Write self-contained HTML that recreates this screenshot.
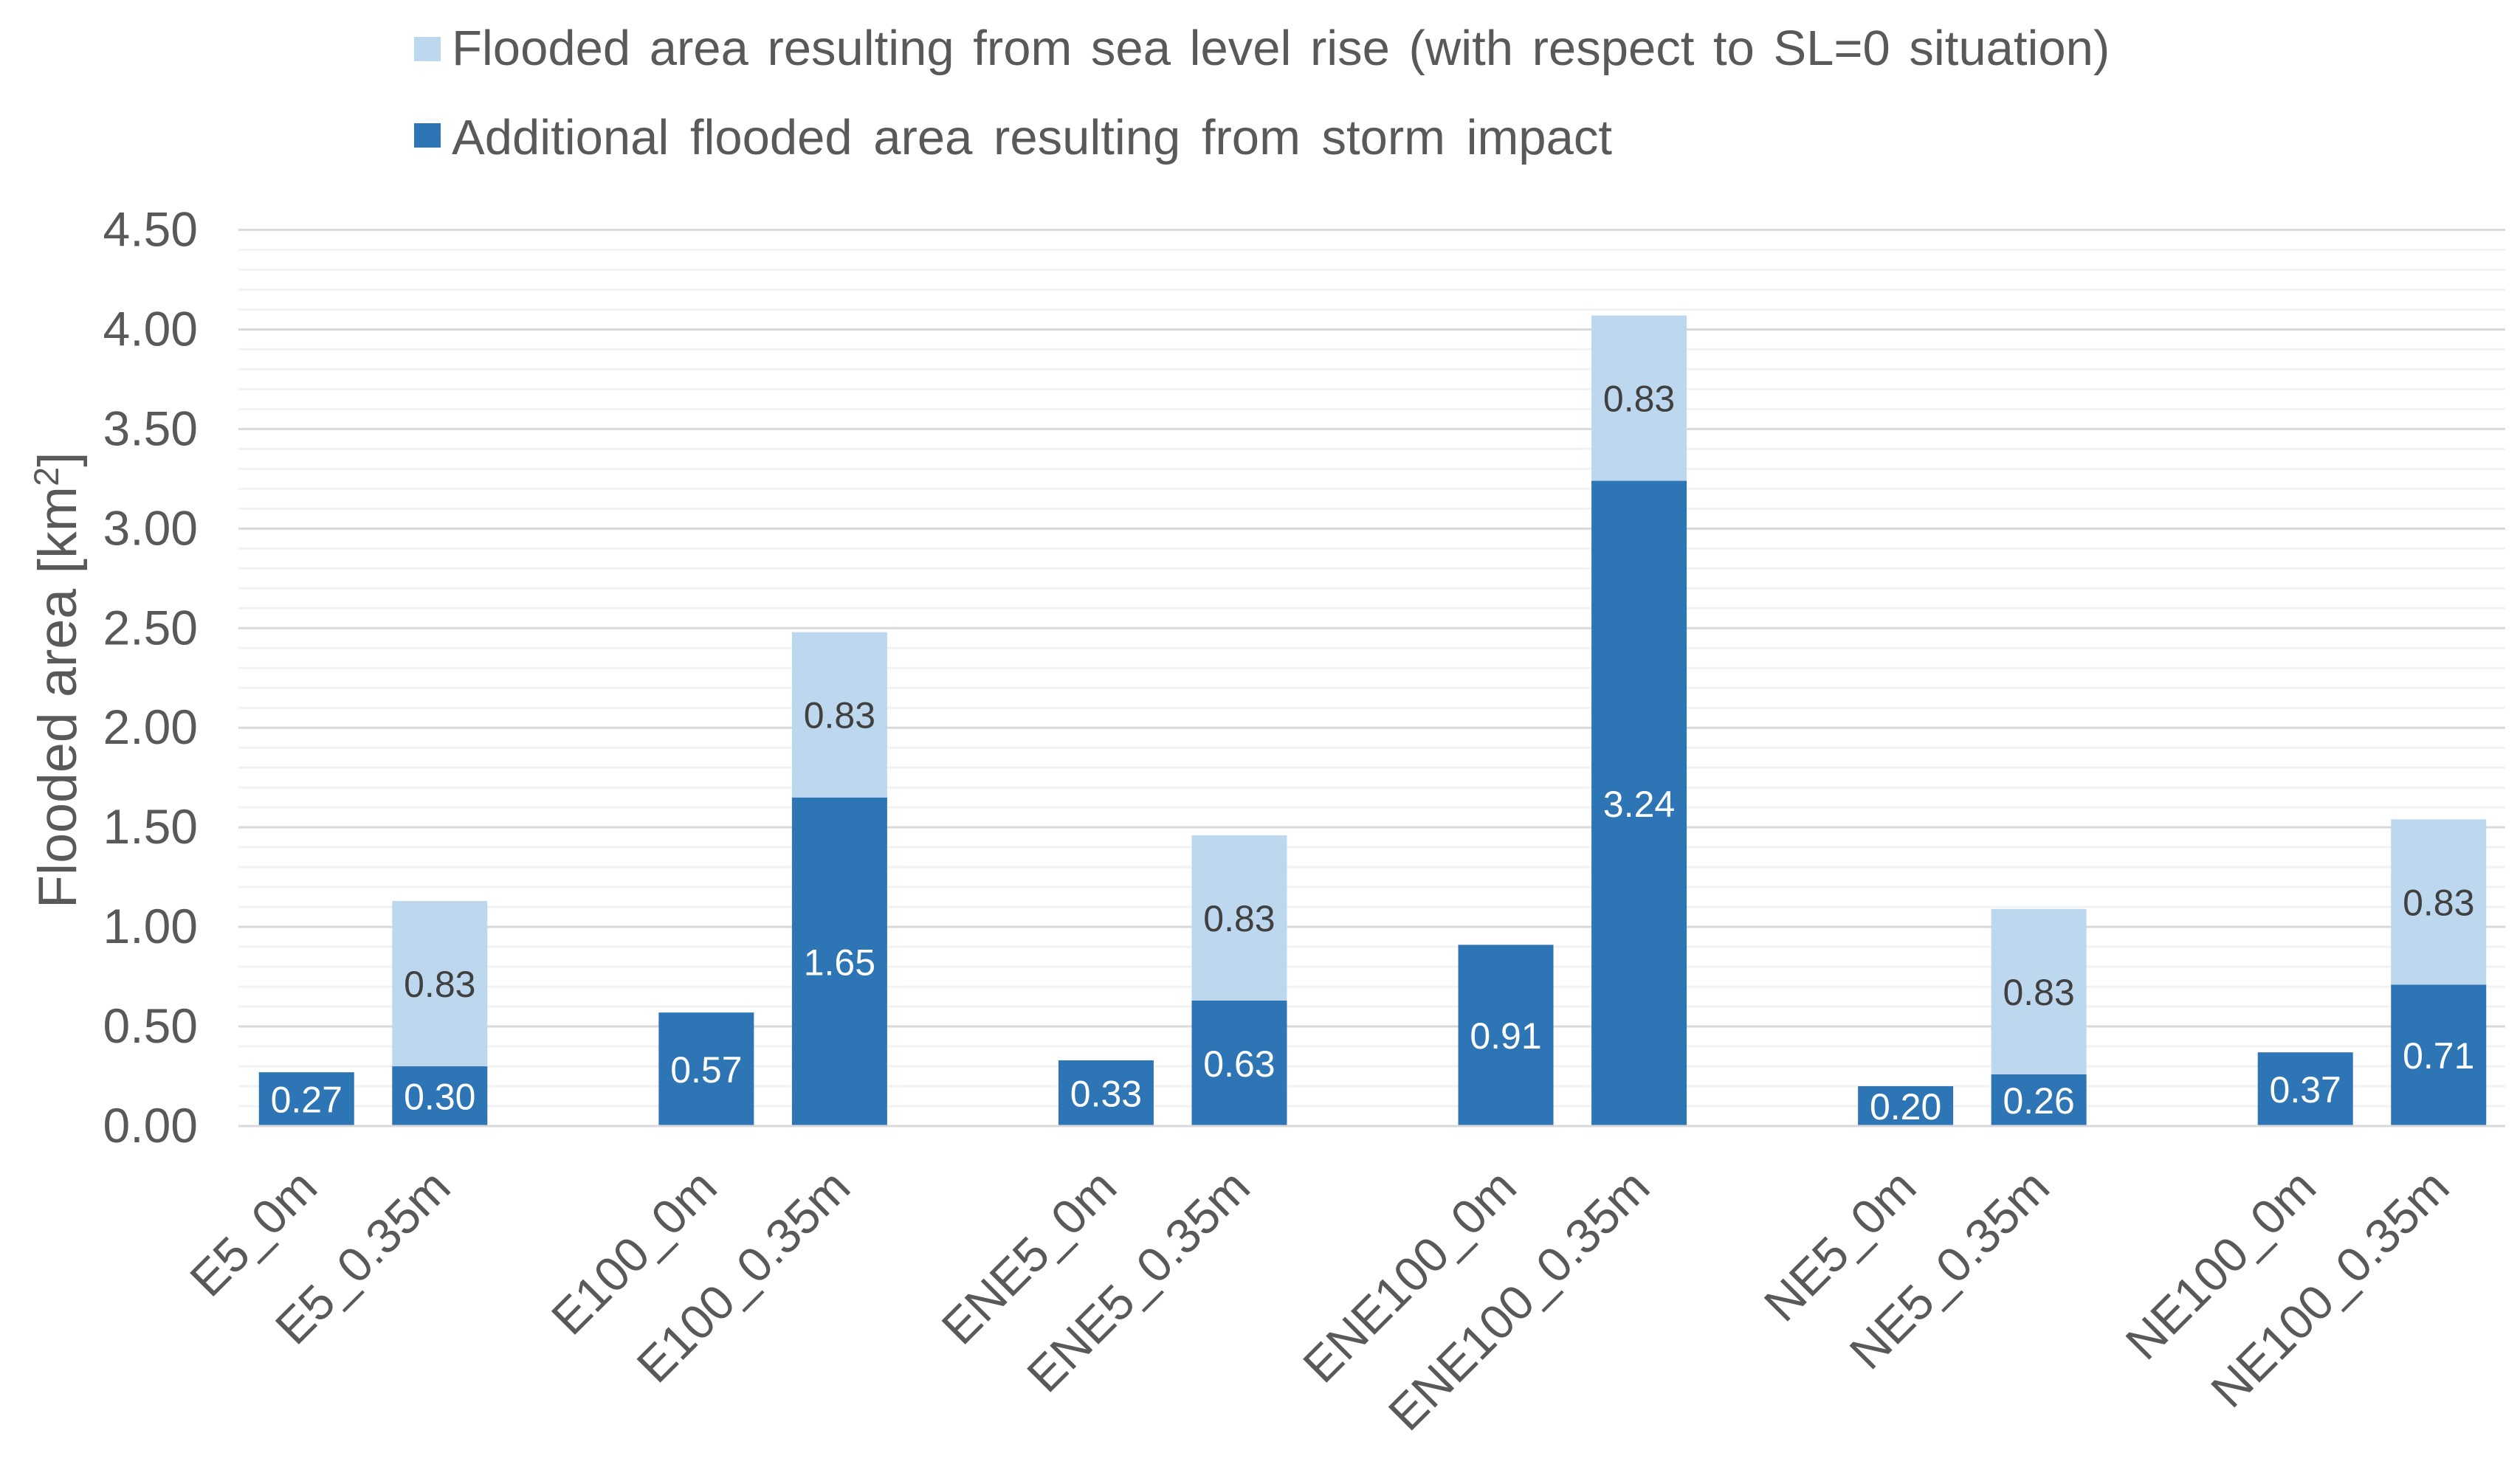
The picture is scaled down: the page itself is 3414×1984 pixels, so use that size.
<!DOCTYPE html>
<html lang="en">
<head>
<meta charset="utf-8">
<title>Flooded area chart</title>
<style>
  html, body { margin: 0; padding: 0; background: #fff; }
  svg { display: block; }
  text { font-family: "Liberation Sans", Arial, sans-serif; fill: #595959; }
</style>
</head>
<body>
<svg id="chart" xmlns="http://www.w3.org/2000/svg" width="3414" height="1984" viewBox="0 0 3414 1984">
  <g id="grid"></g>
  <g id="bars"></g>
  <g id="axis"></g>
  <g id="labels"></g>
  <g id="yticks"></g>
  <g id="xticks"></g>

  <text transform="translate(103 1231) rotate(-90)" font-size="73.5">Flooded area [km<tspan font-size="47" dy="-24">2</tspan><tspan dy="24">]</tspan></text>

  <g>
    <g>
      <rect x="561" y="50" width="36" height="33" fill="#bdd7ee"></rect>
      <text x="612" y="88" font-size="67" word-spacing="7">Flooded area resulting from sea level rise (with respect to SL=0 situation)</text>
    </g>
    <g>
      <rect x="561" y="167" width="36" height="33" fill="#2e75b6"></rect>
      <text x="612" y="209" font-size="67" word-spacing="10">Additional flooded area resulting from storm impact</text>
    </g>
  </g>
</svg>
<script>
const categories = ["E5_0m","E5_0.35m","","E100_0m","E100_0.35m","","ENE5_0m","ENE5_0.35m","","ENE100_0m","ENE100_0.35m","","NE5_0m","NE5_0.35m","","NE100_0m","NE100_0.35m"];
const stormArea = [0.27,0.30,null,0.57,1.65,null,0.33,0.63,null,0.91,3.24,null,0.20,0.26,null,0.37,0.71];
const seaLevelArea = [null,0.83,null,null,0.83,null,null,0.83,null,null,0.83,null,null,0.83,null,null,0.83];
const yTickValues = [0,0.5,1,1.5,2,2.5,3,3.5,4,4.5];
const yTickLabels = ["0.00","0.50","1.00","1.50","2.00","2.50","3.00","3.50","4.00","4.50"];
const minorTickValues = [0.1,0.2,0.3,0.4,0.6,0.7,0.8,0.9,1.1,1.2,1.3,1.4,1.6,1.7,1.8,1.9,2.1,2.2,2.3,2.4,2.6,2.7,2.8,2.9,3.1,3.2,3.3,3.4,3.6,3.7,3.8,3.9,4.1,4.2,4.3,4.4];

const NS = 'http://www.w3.org/2000/svg';
const gridLeft = 323, plotLeft = 325, plotRight = 3394, plotBottom = 1526, plotTop = 311.5;
const yMax = 4.5;
const barWidth = 129;

function xPos(i) { return plotLeft + (plotRight - plotLeft) * (i + 0.5) / categories.length; }
function yPos(v) { return plotBottom - (plotBottom - plotTop) * v / yMax; }

function make(tag, attrs, parent, content) {
  const el = document.createElementNS(NS, tag);
  for (const k in attrs) el.setAttribute(k, attrs[k]);
  if (content !== undefined) el.textContent = content;
  parent.appendChild(el);
  return el;
}

const gridG = document.getElementById('grid');
const barsG = document.getElementById('bars');
const axisG = document.getElementById('axis');
const labelsG = document.getElementById('labels');
const yticksG = document.getElementById('yticks');
const xticksG = document.getElementById('xticks');

minorTickValues.forEach(function (v) {
  const line = make('line', {x1: gridLeft, x2: plotRight, y1: yPos(v), y2: yPos(v), stroke: '#f2f2f2', 'stroke-width': 3}, gridG);
  
  
});

yTickValues.forEach(function (v, i) {
  if (v > 0) {
    const line = make('line', {x1: gridLeft, x2: plotRight, y1: yPos(v), y2: yPos(v), stroke: '#d9d9d9', 'stroke-width': 3}, gridG);
    
    
  }
  const tick = make('text', {x: 268, y: yPos(v) + 22, 'text-anchor': 'end', 'font-size': 66}, yticksG, yTickLabels[i]);
  
  
});

categories.forEach(function (name, i) {
  if (!name) return;
  const cx = xPos(i);
  const storm = stormArea[i] || 0;
  const sea = seaLevelArea[i] || 0;

  const stormBar = make('rect', {x: cx - barWidth / 2, y: yPos(storm), width: barWidth, height: yPos(0) - yPos(storm), fill: '#2e75b6'}, barsG);
  
  

  const stormLabel = make('text', {x: cx, y: (yPos(storm) + yPos(0)) / 2 + 18, 'text-anchor': 'middle', 'font-size': 50, style: 'fill:#ffffff'}, labelsG, storm.toFixed(2));
  
  

  if (sea > 0) {
    const seaBar = make('rect', {x: cx - barWidth / 2, y: yPos(storm + sea), width: barWidth, height: yPos(storm) - yPos(storm + sea), fill: '#bdd7ee'}, barsG);
    
    

    const seaLabel = make('text', {x: cx, y: (yPos(storm + sea) + yPos(storm)) / 2 + 18, 'text-anchor': 'middle', 'font-size': 50, style: 'fill:#404040'}, labelsG, sea.toFixed(2));
    
    
  }

  const tx = cx + 18, ty = 1613;
  const xLabel = make('text', {x: tx, y: ty, 'text-anchor': 'end', 'font-size': 66, transform: 'rotate(-45 ' + tx + ' ' + ty + ')'}, xticksG, name);
  
  
});

const baseLine = make('line', {x1: gridLeft, x2: plotRight, y1: yPos(0), y2: yPos(0), stroke: '#d9d9d9', 'stroke-width': 3}, axisG);


</script>
</body>
</html>
